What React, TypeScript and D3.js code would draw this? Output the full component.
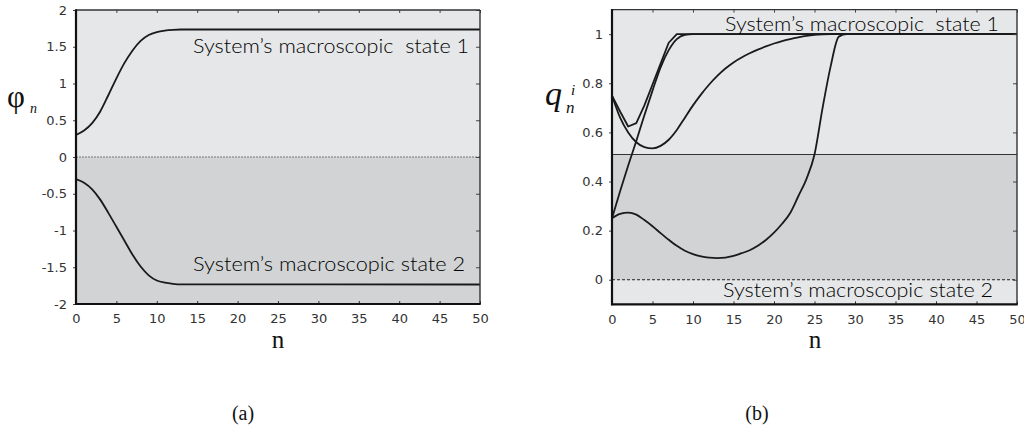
import React, { useRef, useEffect } from 'react'
import * as d3 from 'd3'

// ---- panel (a): phi_n ----
const phiN = [0, 1, 2, 3, 4, 5, 6, 7, 8, 9, 10, 11, 12, 13, 50]
const phiUpper = [0.30, 0.36, 0.46, 0.62, 0.84, 1.07, 1.28, 1.45, 1.58, 1.66, 1.70, 1.72, 1.73, 1.735, 1.735]
const phiLower = [-0.30, -0.35, -0.44, -0.58, -0.76, -0.95, -1.14, -1.33, -1.49, -1.61, -1.68, -1.71, -1.725, -1.732, -1.735]
const phiTicks = [-2, -1.5, -1, -0.5, 0, 0.5, 1, 1.5, 2]

// ---- panel (b): q_n^i ----
const qNa = [0, 1, 2, 3, 4, 5, 6, 7, 8, 50]
const qA = [0.75, 0.685, 0.624, 0.638, 0.71, 0.795, 0.88, 0.965, 1.0, 1.0]

const qNd = [0, 1, 2, 3, 4, 5, 6, 7, 8, 9, 10, 50]
const qD = [0.25, 0.36, 0.465, 0.565, 0.67, 0.77, 0.865, 0.935, 0.98, 0.997, 1.0, 1.0]

const qNb = [0, 1, 2, 3, 4, 5, 6, 7, 8, 9, 10, 11, 12, 13, 14, 15, 16, 17, 18, 19, 20, 21, 22, 23, 24, 25, 26, 27, 50]
const qB = [0.75, 0.66, 0.60, 0.56, 0.54, 0.535, 0.545, 0.57, 0.61, 0.66, 0.71, 0.755, 0.795, 0.83, 0.86, 0.885, 0.905, 0.922, 0.937, 0.95, 0.962, 0.972, 0.98, 0.987, 0.993, 0.997, 0.999, 1.0, 1.0]

const qNe = [0, 1, 2, 3, 4, 5, 6, 7, 8, 9, 10, 11, 12, 13, 14, 15, 16, 17, 18, 19, 20, 21, 22, 23, 24, 25, 26, 27, 28, 29, 50]
const qE = [0.25, 0.268, 0.273, 0.265, 0.243, 0.218, 0.19, 0.163, 0.138, 0.118, 0.104, 0.095, 0.09, 0.088, 0.09, 0.097, 0.108, 0.12, 0.138, 0.162, 0.192, 0.228, 0.272, 0.34, 0.41, 0.51, 0.70, 0.87, 0.99, 1.0, 1.0]

const qTicks = [0, 0.2, 0.4, 0.6, 0.8, 1]
const qBoundary = 0.51

const xTicks = [0, 5, 10, 15, 20, 25, 30, 35, 40, 45, 50]

const LIGHT = '#e6e7e8'
const DARK = '#d1d3d4'
const INK = '#1a1a1a'
const TICKFONT = 'DejaVu Sans, Arial, sans-serif'
const LABELFONT = 'Lato, Open Sans, sans-serif'
const SERIF = 'Liberation Serif, DejaVu Serif, serif'

function frame(g, x, y, yTicks) {
    const [x0, x1] = x.range()
    const [y0, y1] = y.range() // y0 bottom, y1 top

    const bottom = d3.axisBottom(x).tickValues(xTicks).tickSizeInner(-3).tickSizeOuter(0)
        .tickPadding(10).tickFormat(d => String(d))
    const gb = g.append('g').attr('transform', `translate(0,${y0})`).call(bottom)
    gb.select('.domain').remove()
    gb.selectAll('text').attr('font-size', 13).attr('font-family', TICKFONT).attr('fill', '#333')
    gb.selectAll('line').attr('stroke', '#333')

    const top = d3.axisTop(x).tickValues(xTicks).tickSizeInner(-3).tickSizeOuter(0).tickFormat(() => '')
    const gt = g.append('g').attr('transform', `translate(0,${y1})`).call(top)
    gt.select('.domain').remove()
    gt.selectAll('line').attr('stroke', '#444')

    const left = d3.axisLeft(y).tickValues(yTicks).tickSizeInner(3).tickSizeOuter(0)
        .tickPadding(6).tickFormat(d => String(d))
    const gl = g.append('g').attr('transform', `translate(${x0},0)`).call(left)
    gl.select('.domain').remove()
    gl.selectAll('text').attr('font-size', 13).attr('font-family', TICKFONT).attr('fill', '#333')
    gl.selectAll('line').attr('stroke', '#444')

    const right = d3.axisRight(y).tickValues(yTicks).tickSizeInner(-4).tickSizeOuter(0).tickFormat(() => '')
    const gr = g.append('g').attr('transform', `translate(${x1},0)`).call(right)
    gr.select('.domain').remove()
    gr.selectAll('line').attr('stroke', '#444')

    // box: thin top/right, heavy left/bottom
    g.append('line').attr('x1', x0).attr('x2', x1).attr('y1', y1).attr('y2', y1)
        .attr('stroke', '#333').attr('stroke-width', 1.4)
    g.append('line').attr('x1', x1).attr('x2', x1).attr('y1', y1).attr('y2', y0)
        .attr('stroke', '#333').attr('stroke-width', 1.4)
    g.append('line').attr('x1', x0).attr('x2', x0).attr('y1', y1 - 0.7).attr('y2', y0 + 1)
        .attr('stroke', '#111').attr('stroke-width', 2.2)
    g.append('line').attr('x1', x0 - 1).attr('x2', x1 + 0.7).attr('y1', y0).attr('y2', y0)
        .attr('stroke', '#111').attr('stroke-width', 2.2)
}

function label(g, text, x, y, width) {
    g.append('text')
        .attr('x', x).attr('y', y)
        .attr('font-family', LABELFONT).attr('font-size', 19).attr('font-weight', 300).attr('fill', '#000')
        .attr('textLength', width).attr('lengthAdjust', 'spacingAndGlyphs')
        .style('white-space', 'pre')
        .text(text)
}

function curve(g, xs, ys, x, y, shape) {
    const pts = xs.map((n, i) => [n, ys[i]])
    const gen = d3.line().x(d => x(d[0])).y(d => y(d[1])).curve(shape)
    g.append('path').attr('d', gen(pts)).attr('fill', 'none')
        .attr('stroke', INK).attr('stroke-width', 1.8).attr('stroke-linejoin', 'round')
}

function App() {
    const svgRef = useRef(null)

    useEffect(() => {
        const svg = d3.select(svgRef.current)
        svg.selectAll('*').remove()

        // ---------- (a) ----------
        const xa = d3.scaleLinear().domain([0, 50]).range([76, 480])
        const ya = d3.scaleLinear().domain([-2, 2]).range([304, 10])
        const ga = svg.append('g')

        ga.append('rect').attr('x', 76).attr('y', ya(2)).attr('width', 404).attr('height', ya(0) - ya(2)).attr('fill', LIGHT)
        ga.append('rect').attr('x', 76).attr('y', ya(0)).attr('width', 404).attr('height', ya(-2) - ya(0)).attr('fill', DARK)
        ga.append('line').attr('x1', 76).attr('x2', 480).attr('y1', ya(0)).attr('y2', ya(0))
            .attr('stroke', '#777').attr('stroke-width', 1).attr('stroke-dasharray', '2,1')

        curve(ga, phiN, phiUpper, xa, ya, d3.curveMonotoneX)
        curve(ga, phiN, phiLower, xa, ya, d3.curveMonotoneX)

        label(ga, "System\u2019s macroscopic  state 1", 193, 53, 276)
        label(ga, "System\u2019s macroscopic state 2", 193, 271, 272)

        frame(ga, xa, ya, phiTicks)

        ga.append('text').attr('x', 7).attr('y', 107).attr('font-family', SERIF).attr('font-size', 31)
            .attr('fill', '#111').text('\u03c6')
        ga.append('text').attr('x', 30).attr('y', 113).attr('font-family', SERIF).attr('font-size', 14)
            .attr('font-style', 'italic').attr('fill', '#111').text('n')
        ga.append('text').attr('x', 278).attr('y', 348).attr('text-anchor', 'middle')
            .attr('font-family', SERIF).attr('font-size', 25).attr('fill', '#111').text('n')
        ga.append('text').attr('x', 243).attr('y', 420).attr('text-anchor', 'middle')
            .attr('font-family', SERIF).attr('font-size', 20).attr('fill', '#111').text('(a)')

        // ---------- (b) ----------
        const xb = d3.scaleLinear().domain([0, 50]).range([612, 1017])
        const yb = d3.scaleLinear().domain([-0.1, 1.1]).range([304.3, 9.6])
        const gbp = svg.append('g')
        const wb = 1017 - 612

        gbp.append('rect').attr('x', 612).attr('y', yb(1.1)).attr('width', wb).attr('height', yb(-0.1) - yb(1.1)).attr('fill', LIGHT)
        gbp.append('rect').attr('x', 612).attr('y', yb(qBoundary)).attr('width', wb).attr('height', yb(0) - yb(qBoundary)).attr('fill', DARK)
        gbp.append('line').attr('x1', 612).attr('x2', 1017).attr('y1', yb(qBoundary)).attr('y2', yb(qBoundary))
            .attr('stroke', '#333').attr('stroke-width', 1.2)
        gbp.append('line').attr('x1', 612).attr('x2', 1017).attr('y1', yb(0)).attr('y2', yb(0))
            .attr('stroke', '#222').attr('stroke-width', 1).attr('stroke-dasharray', '3,2')

        curve(gbp, qNa, qA, xb, yb, d3.curveLinear)
        curve(gbp, qNd, qD, xb, yb, d3.curveMonotoneX)
        curve(gbp, qNb, qB, xb, yb, d3.curveMonotoneX)
        curve(gbp, qNe, qE, xb, yb, d3.curveMonotoneX)

        label(gbp, "System\u2019s macroscopic  state 1", 725, 31, 274)
        label(gbp, "System\u2019s macroscopic state 2", 723, 297, 270)

        frame(gbp, xb, yb, qTicks)

        gbp.append('text').attr('x', 545).attr('y', 105).attr('font-family', SERIF).attr('font-size', 34)
            .attr('font-style', 'italic').attr('fill', '#111').text('q')
        gbp.append('text').attr('x', 571).attr('y', 95).attr('font-family', SERIF).attr('font-size', 15)
            .attr('font-style', 'italic').attr('fill', '#111').text('i')
        gbp.append('text').attr('x', 566).attr('y', 113).attr('font-family', SERIF).attr('font-size', 17)
            .attr('font-style', 'italic').attr('fill', '#111').text('n')
        gbp.append('text').attr('x', 815).attr('y', 348).attr('text-anchor', 'middle')
            .attr('font-family', SERIF).attr('font-size', 25).attr('fill', '#111').text('n')
        gbp.append('text').attr('x', 757).attr('y', 420).attr('text-anchor', 'middle')
            .attr('font-family', SERIF).attr('font-size', 20).attr('fill', '#111').text('(b)')
    }, [])

    return (
        <svg ref={svgRef} width="1024" height="429"
            style={{ position: 'absolute', left: 0, top: 0, background: '#fff', display: 'block' }} />
    )
}

export default App
